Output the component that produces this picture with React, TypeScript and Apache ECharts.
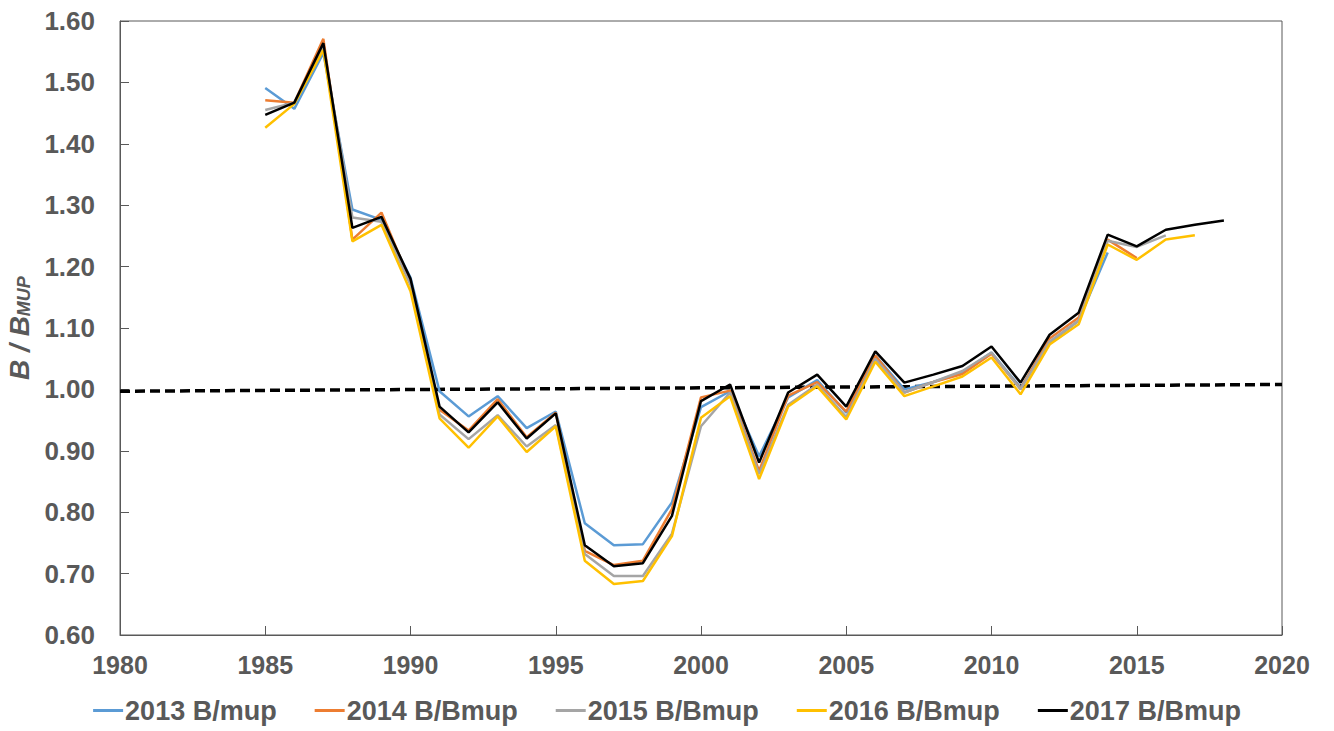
import React, { useEffect, useRef } from "react";
import * as echarts from "echarts";

const years = [
  1985, 1986, 1987, 1988, 1989, 1990, 1991, 1992, 1993, 1994, 1995, 1996, 1997, 1998, 1999, 2000, 2001,
  2002, 2003, 2004, 2005, 2006, 2007, 2008, 2009, 2010, 2011, 2012, 2013, 2014, 2015, 2016, 2017, 2018,
];

const s2013 = [
  1.491, 1.457, 1.548, 1.293, 1.276, 1.182, 0.997, 0.956, 0.989, 0.937, 0.964, 0.782, 0.746, 0.748, 0.816,
  0.971, 0.997, 0.891, 0.987, 1.015, 0.962, 1.055, 1.0, 1.012, 1.028, 1.06, 1.003, 1.076, 1.112, 1.223,
];
const s2014 = [
  1.471, 1.467, 1.571, 1.244, 1.288, 1.175, 0.967, 0.933, 0.984, 0.922, 0.962, 0.737, 0.714, 0.721, 0.805,
  0.987, 0.998, 0.867, 0.99, 1.012, 0.964, 1.055, 0.995, 1.012, 1.025, 1.058, 1.001, 1.083, 1.117, 1.244,
  1.214,
];
const s2015 = [
  1.455, 1.467, 1.558, 1.28, 1.273, 1.17, 0.959, 0.919, 0.958, 0.907, 0.942, 0.732, 0.696, 0.696, 0.765,
  0.94, 0.995, 0.862, 0.975, 1.008, 0.955, 1.05, 0.995, 1.012, 1.03, 1.06, 1.0, 1.078, 1.112, 1.242, 1.232,
  1.251,
];
const s2016 = [
  1.426, 1.465, 1.553, 1.241, 1.268, 1.16, 0.953, 0.905, 0.956, 0.898, 0.94, 0.721, 0.683, 0.688, 0.761,
  0.954, 0.989, 0.854, 0.972, 1.005, 0.951, 1.045, 0.989, 1.005, 1.021, 1.052, 0.992, 1.073, 1.106, 1.236,
  1.211, 1.244, 1.251,
];
const s2017 = [
  1.447, 1.467, 1.564, 1.263, 1.281, 1.18, 0.972, 0.93, 0.979, 0.92, 0.961, 0.746, 0.712, 0.717, 0.794,
  0.981, 1.008, 0.881, 0.995, 1.024, 0.972, 1.062, 1.011, 1.024, 1.038, 1.07, 1.011, 1.089, 1.125, 1.252,
  1.233, 1.26, 1.268, 1.275,
];

const refYears = [1980, 2020];
const refValues = [0.997, 1.008];

const seriesNames = ["2013 B/mup", "2014 B/Bmup", "2015 B/Bmup", "2016 B/Bmup", "2017 B/Bmup"];
const seriesData = [s2013, s2014, s2015, s2016, s2017];
const colors = ["#5B9BD5", "#ED7D31", "#A5A5A5", "#FFC000", "#000000"];

const FONT = "'Liberation Sans', Arial, sans-serif";
const TXT = "#595959";

export default function App() {
  const ref = useRef<HTMLDivElement>(null);
  useEffect(() => {
    if (!ref.current) return;
    const chart = echarts.init(ref.current, undefined, { renderer: "svg" });
    const lines = seriesData.map((arr, i) => ({
      name: seriesNames[i],
      type: "line",
      data: arr.map((v, j) => [years[j], v]),
      showSymbol: false,
      symbol: "none",
      lineStyle: { color: colors[i], width: 2.5 },
      itemStyle: { color: colors[i] },
      z: 2 + i,
    }));
    chart.setOption({
      animation: false,
      backgroundColor: "#ffffff",
      textStyle: { fontFamily: FONT },
      grid: {
        left: 120,
        right: 52,
        top: 21,
        bottom: 96,
        show: true,
        borderColor: "#595959",
        borderWidth: 1,
        outerBoundsMode: "none",
        containLabel: false,
      },
      legend: {
        bottom: 2,
        left: "center",
        icon: "rect",
        itemWidth: 30,
        itemHeight: 3,
        itemGap: 38,
        data: seriesNames,
        textStyle: { fontFamily: FONT, fontSize: 27, fontWeight: "bold", color: TXT, padding: [0, 0, 0, -3] },
      },
      xAxis: {
        type: "value",
        min: 1980,
        max: 2020,
        interval: 5,
        axisLine: { show: true, lineStyle: { color: "#595959", width: 1 } },
        axisTick: { show: true, inside: true, length: 9, lineStyle: { color: "#595959" } },
        splitLine: { show: false },
        axisLabel: {
          margin: 17,
          fontFamily: FONT,
          fontSize: 25,
          fontWeight: "bold",
          color: TXT,
          formatter: (v: number) => String(v),
        },
      },
      yAxis: {
        type: "value",
        min: 0.6,
        max: 1.6,
        interval: 0.1,
        axisLine: { show: true, lineStyle: { color: "#595959", width: 1 } },
        axisTick: { show: true, inside: true, length: 9, lineStyle: { color: "#595959" } },
        splitLine: { show: false },
        axisLabel: {
          margin: 25,
          fontFamily: FONT,
          fontSize: 26,
          fontWeight: "bold",
          color: TXT,
          formatter: (v: number) => v.toFixed(2),
        },
        name: "{m|B / B}{s|MUP}",
        nameLocation: "middle",
        nameRotate: 90,
        nameGap: 84,
        nameTextStyle: {
          rich: {
            m: { fontFamily: FONT, fontSize: 28, fontWeight: "bold", fontStyle: "italic", color: TXT, lineHeight: 34, verticalAlign: "bottom" },
            s: { fontFamily: FONT, fontSize: 18, fontWeight: "bold", fontStyle: "italic", color: TXT, lineHeight: 34, verticalAlign: "bottom", padding: [10, 0, 0, 0] },
          },
        },
      },
      series: [
        ...lines,
        {
          name: "ref",
          type: "line",
          data: refYears.map((y, i) => [y, refValues[i]]),
          showSymbol: false,
          symbol: "none",
          lineStyle: { color: "#000000", width: 3.5, type: [10, 5] },
          z: 1,
          silent: true,
        },
      ],
    });
    return () => chart.dispose();
  }, []);
  return <div ref={ref} style={{ position: "absolute", left: 0, top: 0, width: 1334, height: 731 }} />;
}
